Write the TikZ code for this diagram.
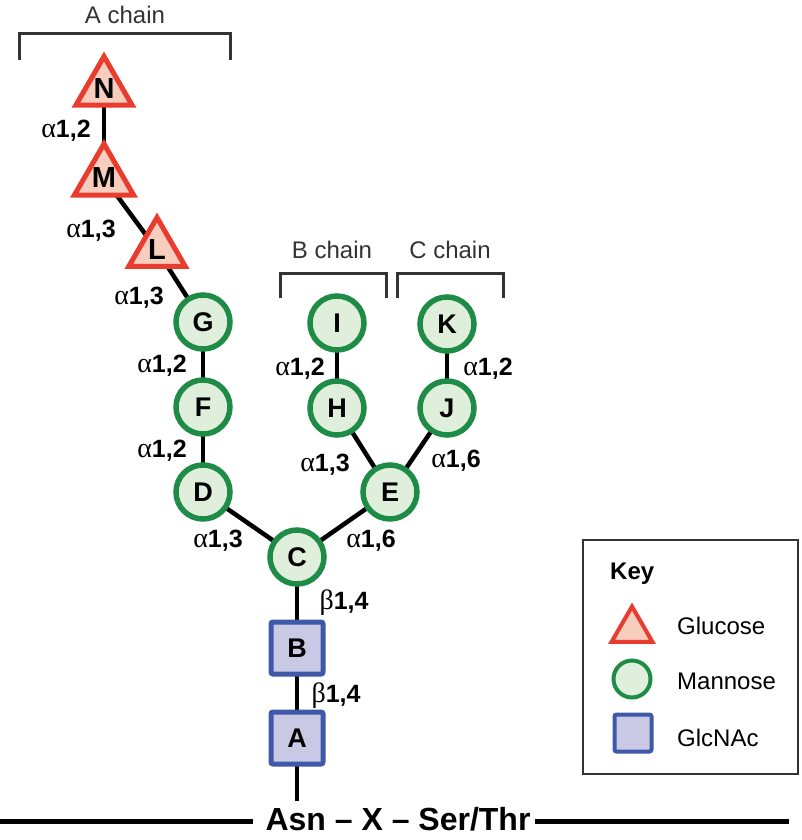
\documentclass[tikz,border=0pt]{standalone}
\usepackage{fontspec}
\setmainfont{Liberation Sans}
\newfontfamily\serifgreek{Liberation Serif}
\usetikzlibrary{shapes.geometric}
\definecolor{glcfill}{HTML}{F7CDBD}
\definecolor{glcdraw}{HTML}{E83C2E}
\definecolor{manfill}{HTML}{E0EFDC}
\definecolor{mandraw}{HTML}{1E8B46}
\definecolor{nacfill}{HTML}{C9C9E6}
\definecolor{nacdraw}{HTML}{4058A8}
\definecolor{dkgray}{HTML}{333333}
\newcommand{\fsz}[1]{\fontsize{#1}{#1}\selectfont}
\newcommand{\lka}[1]{{\serifgreek\fsz{28}α}\textbf{#1}}
\newcommand{\lkb}[1]{{\serifgreek\fsz{28}β}\textbf{#1}}
\pgfdeclarelayer{bg}
\pgfsetlayers{bg,main}
\begin{document}
\begin{tikzpicture}[x=1pt,y=-1pt,
  glc/.style={regular polygon, regular polygon sides=3, draw=glcdraw, fill=glcfill, line width=5pt, minimum size=65pt, inner sep=0pt, font=\fsz{29}\bfseries},
  man/.style={circle, draw=mandraw, fill=manfill, line width=5.5pt, minimum size=54pt, inner sep=0pt, font=\fsz{27}\bfseries},
  nac/.style={rectangle, rounded corners=2pt, draw=nacdraw, fill=nacfill, line width=5pt, minimum size=52pt, inner sep=0pt, font=\fsz{27}\bfseries},
  bond/.style={line width=4.5pt, black},
  lnk/.style={font=\fsz{25}, inner sep=0pt, anchor=base},
  brk/.style={line width=3pt, draw=dkgray},
  chainlbl/.style={font=\fsz{24}, text=dkgray, inner sep=0pt, anchor=base},
  keyglc/.style={regular polygon, regular polygon sides=3, draw=glcdraw, fill=glcfill, line width=4pt, minimum size=47pt, inner sep=0pt},
  keyman/.style={circle, draw=mandraw, fill=manfill, line width=4pt, minimum size=37pt, inner sep=0pt},
  keynac/.style={rectangle, rounded corners=2pt, draw=nacdraw, fill=nacfill, line width=4pt, minimum size=37pt, inner sep=0pt},
  keytxt/.style={font=\fsz{24}, inner sep=0pt, anchor=base west}]
\useasboundingbox (0,0) rectangle (801,840);

% residues
\node[glc] (N) at (104,89) {N};
\node[glc] (M) at (104,178) {M};
\node[glc] (L) at (157,250) {L};
\node[man] (G) at (203,322) {G};
\node[man] (F) at (203,407) {F};
\node[man] (D) at (203,492) {D};
\node[man] (C) at (297,557) {C};
\node[man] (E) at (390,492) {E};
\node[man] (H) at (337,408) {H};
\node[man] (I) at (337,323) {I};
\node[man] (J) at (447,408) {J};
\node[man] (K) at (447,324) {K};
\node[nac] (B) at (297,648) {B};
\node[nac] (A) at (297,738) {A};

% peptide
\node[font=\fsz{32}\bfseries, inner sep=0pt, anchor=base] (pep) at (398,830) {Asn – X – Ser/Thr};
\coordinate (asn) at (297,801);
\coordinate (l0) at (0,821);
\coordinate (l1) at (253,821);
\coordinate (r0) at (535,821);
\coordinate (r1) at (789,821);
\draw[line width=5pt] (l0) -- (l1);
\draw[line width=5pt] (r0) -- (r1);

\begin{pgfonlayer}{bg}
\draw[bond] (N.center) -- (M.center);
\draw[bond] (M.center) -- (L.center);
\draw[bond] (L.center) -- (G.center);
\draw[bond] (G.center) -- (F.center);
\draw[bond] (F.center) -- (D.center);
\draw[bond] (D.center) -- (C.center);
\draw[bond] (C.center) -- (E.center);
\draw[bond] (E.center) -- (H.center);
\draw[bond] (H.center) -- (I.center);
\draw[bond] (E.center) -- (J.center);
\draw[bond] (J.center) -- (K.center);
\draw[bond] (C.center) -- (B.center);
\draw[bond] (B.center) -- (A.center);
\draw[bond] (A.center) -- (asn);
\end{pgfonlayer}

% linkage labels
\node[lnk] (lNM) at (66,137) {\lka{1,2}};
\node[lnk] (lML) at (91,237) {\lka{1,3}};
\node[lnk] (lLG) at (139,304) {\lka{1,3}};
\node[lnk] (lGF) at (162,372) {\lka{1,2}};
\node[lnk] (lFD) at (162,457) {\lka{1,2}};
\node[lnk] (lDC) at (218,547) {\lka{1,3}};
\node[lnk] (lCE) at (371,547) {\lka{1,6}};
\node[lnk] (lHE) at (325,471) {\lka{1,3}};
\node[lnk] (lJE) at (456,467) {\lka{1,6}};
\node[lnk] (lIH) at (300,375) {\lka{1,2}};
\node[lnk] (lKJ) at (488,375) {\lka{1,2}};
\node[lnk] (lCB) at (344,609) {\lkb{1,4}};
\node[lnk] (lBA) at (336,702) {\lkb{1,4}};

% chain brackets
\draw[brk] (19,60) -- (19,34) -- (230,34) -- (230,60);
\node[chainlbl] (achain) at (125,24) {A chain};
\draw[brk] (280,298) -- (280,273) -- (386,273) -- (386,298);
\node[chainlbl] (bchain) at (332,258) {B chain};
\draw[brk] (397,298) -- (397,273) -- (503,273) -- (503,298);
\node[chainlbl] (cchain) at (450,258) {C chain};

% key
\node[draw=dkgray, line width=2pt, minimum width=215pt, minimum height=234pt, inner sep=0pt] (keybox) at (690.5,657) {};
\node[font=\fsz{24}\bfseries, inner sep=0pt, anchor=base west] (keytitle) at (610,579) {Key};
\node[keyglc] (kg) at (632,630) {};
\node[keyman] (km) at (632,679) {};
\node[keynac] (kn) at (633,733) {};
\node[keytxt] (tg) at (677,634) {Glucose};
\node[keytxt] (tm) at (677,689) {Mannose};
\node[keytxt] (tn) at (677,746) {GlcNAc};
\end{tikzpicture}
\end{document}
